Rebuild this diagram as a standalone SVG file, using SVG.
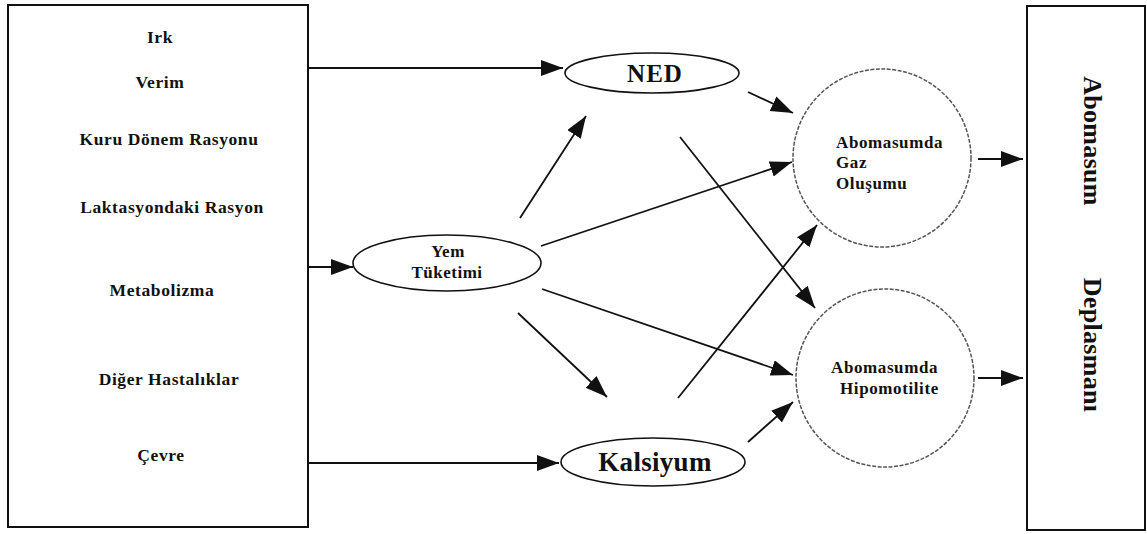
<svg xmlns="http://www.w3.org/2000/svg" width="1147" height="534" viewBox="0 0 1147 534">
<style>
.box{fill:#fff;stroke:#111;stroke-width:2}
.ell{fill:#fff;stroke:#111;stroke-width:1.6}
.circ{fill:#fff;stroke:#555;stroke-width:1.5;stroke-dasharray:4 1.5}
.t{font-family:"Liberation Serif","Times New Roman",serif;font-weight:bold;fill:#111}
.lf{font-size:17.5px;letter-spacing:0.6px;text-anchor:middle}
.cl{font-size:17px;letter-spacing:0.6px}
.big{text-anchor:middle}
.conn line{stroke:#111;stroke-width:1.8;marker-end:url(#ah)}
</style>
<defs>
<marker id="ah" markerUnits="userSpaceOnUse" markerWidth="24" markerHeight="18" refX="22" refY="8" orient="auto">
<path d="M0,0 L22,8 L0,16 z" fill="#111"/>
</marker>
</defs>
<rect width="1147" height="534" fill="#fff"/>
<g id="factors">
<rect class="box" x="8" y="5" width="300" height="522"/>
<text class="t lf" x="160" y="43">Irk</text>
<text class="t lf" x="160" y="88">Verim</text>
<text class="t lf" x="169" y="145">Kuru Dönem Rasyonu</text>
<text class="t lf" x="172" y="213">Laktasyondaki Rasyon</text>
<text class="t lf" x="162" y="296">Metabolizma</text>
<text class="t lf" x="169" y="385">Diğer Hastalıklar</text>
<text class="t lf" x="161" y="461">Çevre</text>
</g>
<g id="ned">
<ellipse class="ell" cx="652" cy="73" rx="87" ry="20"/>
<text class="t big" x="655" y="82" font-size="25" letter-spacing="1">NED</text>
</g>
<g id="yem">
<ellipse class="ell" cx="447" cy="263" rx="94" ry="28"/>
<text class="t big" x="448" y="257" font-size="17" letter-spacing="0.5">Yem</text>
<text class="t big" x="447" y="278" font-size="17" letter-spacing="0.5">Tüketimi</text>
</g>
<g id="kalsiyum">
<ellipse class="ell" cx="653" cy="462" rx="92" ry="24"/>
<text class="t big" x="655" y="471" font-size="27" letter-spacing="0.3">Kalsiyum</text>
</g>
<g id="gaz">
<circle class="circ" cx="882" cy="158" r="89"/>
<text class="t cl" x="836" y="148">Abomasumda</text>
<text class="t cl" x="836" y="168">Gaz</text>
<text class="t cl" x="836" y="189">Oluşumu</text>
</g>
<g id="hipo">
<circle class="circ" cx="885" cy="378" r="89"/>
<text class="t cl" x="831" y="373">Abomasumda</text>
<text class="t cl" x="840" y="394">Hipomotilite</text>
</g>
<g id="deplasman">
<rect class="box" x="1027" y="6" width="118" height="524"/>
<text class="t big" transform="translate(1084,141) rotate(90)" font-size="26" letter-spacing="0.3">Abomasum</text>
<text class="t big" transform="translate(1084,345) rotate(90)" font-size="26" letter-spacing="0.3">Deplasmanı</text>
</g>
<g class="conn" id="connectors">
<line x1="308" y1="68" x2="563" y2="68"/>
<line x1="308" y1="267" x2="353" y2="267"/>
<line x1="308" y1="463" x2="559" y2="463"/>
<line x1="520" y1="218" x2="586" y2="116"/>
<line x1="541" y1="246" x2="792" y2="162"/>
<line x1="518" y1="313" x2="607" y2="397"/>
<line x1="542" y1="289" x2="793" y2="375"/>
<line x1="748" y1="92" x2="793" y2="113"/>
<line x1="680" y1="137" x2="815" y2="308"/>
<line x1="678" y1="398" x2="817" y2="225"/>
<line x1="748" y1="442" x2="793" y2="402"/>
<line x1="978" y1="159" x2="1023" y2="159"/>
<line x1="978" y1="378" x2="1023" y2="378"/>
</g>
</svg>
